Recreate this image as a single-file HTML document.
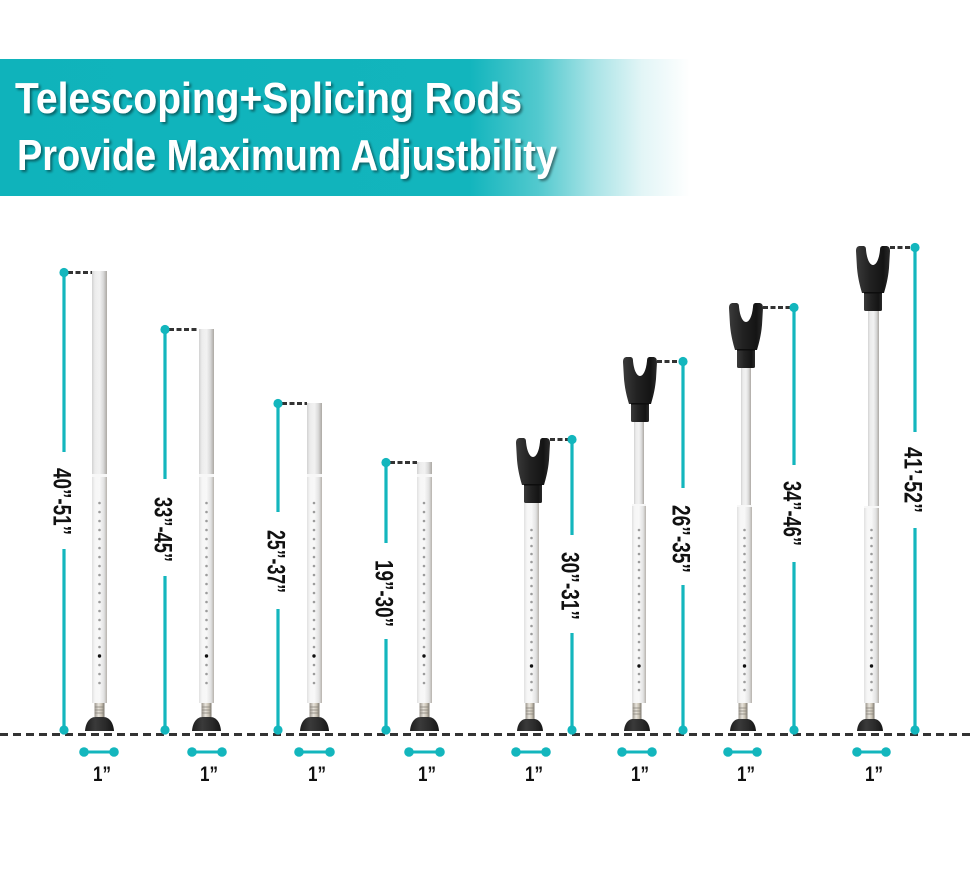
<!DOCTYPE html>
<html>
<head>
<meta charset="utf-8">
<style>
  html, body { margin: 0; padding: 0; background: #fff; }
  svg { display: block; }
</style>
</head>
<body>
<svg width="970" height="878" viewBox="0 0 970 878" xmlns="http://www.w3.org/2000/svg">
  <defs>
    <linearGradient id="band" gradientUnits="userSpaceOnUse" x1="0" y1="0" x2="690" y2="0">
      <stop offset="0" stop-color="#0fb3bb"/>
      <stop offset="0.68" stop-color="#12b5bd"/>
      <stop offset="0.78" stop-color="#52c9ce"/>
      <stop offset="0.86" stop-color="#a8e3e6"/>
      <stop offset="0.93" stop-color="#e2f5f6"/>
      <stop offset="1" stop-color="#ffffff"/>
    </linearGradient>
    <linearGradient id="ru" x1="0" y1="0" x2="1" y2="0">
      <stop offset="0" stop-color="#d2d2d2"/>
      <stop offset="0.2" stop-color="#ececec"/>
      <stop offset="0.5" stop-color="#f2f2f2"/>
      <stop offset="0.75" stop-color="#dadada"/>
      <stop offset="1" stop-color="#aca8a3"/>
    </linearGradient>
    <linearGradient id="rl" x1="0" y1="0" x2="1" y2="0">
      <stop offset="0" stop-color="#e0e0e0"/>
      <stop offset="0.2" stop-color="#f6f6f6"/>
      <stop offset="0.5" stop-color="#f8f8f8"/>
      <stop offset="0.8" stop-color="#e2e2e2"/>
      <stop offset="1" stop-color="#b6b2ac"/>
    </linearGradient>
    <linearGradient id="metal" x1="0" y1="0" x2="1" y2="0">
      <stop offset="0" stop-color="#9a958c"/>
      <stop offset="0.4" stop-color="#e8e4dc"/>
      <stop offset="0.7" stop-color="#c9c2b4"/>
      <stop offset="1" stop-color="#7d786f"/>
    </linearGradient>
    <linearGradient id="footg" x1="0" y1="0" x2="1" y2="0">
      <stop offset="0" stop-color="#1e1e1e"/>
      <stop offset="0.35" stop-color="#3a3a3a"/>
      <stop offset="0.7" stop-color="#2a2a2a"/>
      <stop offset="1" stop-color="#161616"/>
    </linearGradient>
    <linearGradient id="forkg" x1="0" y1="0" x2="1" y2="0">
      <stop offset="0" stop-color="#3a3a3a"/>
      <stop offset="0.4" stop-color="#222"/>
      <stop offset="0.8" stop-color="#141414"/>
      <stop offset="1" stop-color="#2a2a2a"/>
    </linearGradient>
    <filter id="ts" x="-5%" y="-30%" width="110%" height="160%">
      <feDropShadow dx="2" dy="2" stdDeviation="1.2" flood-color="#000" flood-opacity="0.45"/>
    </filter>
    <g id="footA">
      <rect x="-5" y="703" width="10" height="14" fill="url(#metal)"/>
      <line x1="-5" y1="707" x2="5" y2="707" stroke="#8a857c" stroke-width="0.8"/>
      <line x1="-5" y1="710" x2="5" y2="710" stroke="#8a857c" stroke-width="0.8"/>
      <line x1="-5" y1="713" x2="5" y2="713" stroke="#8a857c" stroke-width="0.8"/>
      <path d="M -14.5 731 C -14 723 -10 717 -4 717 L 4 717 C 10 717 14 723 14.5 731 Z" fill="url(#footg)"/>
    </g>
    <g id="footB">
      <rect x="-4.5" y="703" width="9" height="16" fill="url(#metal)"/>
      <line x1="-4.5" y1="708" x2="4.5" y2="708" stroke="#8a857c" stroke-width="0.8"/>
      <line x1="-4.5" y1="711" x2="4.5" y2="711" stroke="#8a857c" stroke-width="0.8"/>
      <line x1="-4.5" y1="714" x2="4.5" y2="714" stroke="#8a857c" stroke-width="0.8"/>
      <path d="M -13 731 C -12.5 724 -9 719 -4 719 L 4 719 C 9 719 12.5 724 13 731 Z" fill="url(#footg)"/>
    </g>
    <g id="fork">
      <path d="M -17 5 C -17 1 -15 0 -13 0 L -10 0 C -8 0 -7 1 -7 4 C -6 14 -3 19 0 19 C 3 19 6 14 7 4 C 7 1 8 0 10 0 L 13 0 C 15 0 17 1 17 5 L 16 22 C 15 33 13 40 11 47 L -11 47 C -13 40 -15 33 -16 22 Z" fill="url(#forkg)"/>
      <rect x="-9" y="46" width="18" height="19" rx="1.5" fill="url(#forkg)"/>
      <rect x="-9" y="46" width="18" height="1.5" fill="#0d0d0d"/>
    </g>
  </defs>

  <rect width="970" height="878" fill="#fff"/>

  <!-- Header band -->
  <rect x="0" y="59" width="690" height="137" fill="url(#band)"/>
  <g font-family="'Liberation Sans', Arial, sans-serif" font-weight="bold" fill="#fff" font-size="44" filter="url(#ts)">
    <text x="15" y="113" textLength="507" lengthAdjust="spacingAndGlyphs">Telescoping+Splicing Rods</text>
    <text x="17" y="170" textLength="540" lengthAdjust="spacingAndGlyphs">Provide Maximum Adjustbility</text>
  </g>

  <!-- Baseline -->
  <line x1="0" y1="734.5" x2="970" y2="734.5" stroke="#333" stroke-width="3" stroke-dasharray="8 5"/>

  <!-- ============ Rods 1-4 (plain) ============ -->
  <!-- Rod 1 -->
  <rect x="92" y="271" width="15" height="205" fill="url(#ru)"/>
  <rect x="92" y="475" width="15" height="228" fill="url(#rl)"/>
  <rect x="92" y="474" width="15" height="3" fill="#f7f7f7"/>
  <line x1="99.5" y1="503" x2="99.5" y2="683.5" stroke="#9c9c9c" stroke-width="2.6" stroke-linecap="round" stroke-dasharray="0 9"/>
  <circle cx="99.5" cy="656" r="1.7" fill="#111"/>
  <use href="#footA" x="99.5"/>

  <!-- Rod 2 -->
  <rect x="199" y="329" width="15" height="147" fill="url(#ru)"/>
  <rect x="199" y="475" width="15" height="228" fill="url(#rl)"/>
  <rect x="199" y="474" width="15" height="3" fill="#f7f7f7"/>
  <line x1="206.5" y1="503" x2="206.5" y2="683.5" stroke="#9c9c9c" stroke-width="2.6" stroke-linecap="round" stroke-dasharray="0 9"/>
  <circle cx="206.5" cy="656" r="1.7" fill="#111"/>
  <use href="#footA" x="206.5"/>

  <!-- Rod 3 -->
  <rect x="307" y="403" width="15" height="73" fill="url(#ru)"/>
  <rect x="307" y="475" width="15" height="228" fill="url(#rl)"/>
  <rect x="307" y="474" width="15" height="3" fill="#f7f7f7"/>
  <line x1="314" y1="503" x2="314" y2="683.5" stroke="#9c9c9c" stroke-width="2.6" stroke-linecap="round" stroke-dasharray="0 9"/>
  <circle cx="314" cy="656" r="1.7" fill="#111"/>
  <use href="#footA" x="314.5"/>

  <!-- Rod 4 -->
  <rect x="417" y="462" width="15" height="14" fill="url(#ru)"/>
  <rect x="417" y="475" width="15" height="228" fill="url(#rl)"/>
  <rect x="417" y="474" width="15" height="3" fill="#f7f7f7"/>
  <line x1="424" y1="503" x2="424" y2="683.5" stroke="#9c9c9c" stroke-width="2.6" stroke-linecap="round" stroke-dasharray="0 9"/>
  <circle cx="424" cy="656" r="1.7" fill="#111"/>
  <use href="#footA" x="424.5"/>

  <!-- ============ Rods 5-8 (forks) ============ -->
  <!-- Rod 5 -->
  <rect x="524" y="503" width="15" height="200" fill="url(#rl)"/>
  <line x1="531.5" y1="530" x2="531.5" y2="690.5" stroke="#9c9c9c" stroke-width="2.6" stroke-linecap="round" stroke-dasharray="0 8"/>
  <circle cx="531.5" cy="666" r="1.7" fill="#111"/>
  <use href="#fork" transform="translate(533,438)"/>
  <use href="#footB" x="530"/>

  <!-- Rod 6 -->
  <rect x="634" y="420" width="10" height="86" fill="url(#ru)"/>
  <rect x="632" y="505" width="14" height="198" fill="url(#rl)"/>
  <rect x="632" y="504" width="14" height="2" fill="#f7f7f7"/>
  <line x1="639" y1="530" x2="639" y2="690.5" stroke="#9c9c9c" stroke-width="2.6" stroke-linecap="round" stroke-dasharray="0 8"/>
  <circle cx="639" cy="666" r="1.7" fill="#111"/>
  <use href="#fork" transform="translate(640,357)"/>
  <use href="#footB" x="637"/>

  <!-- Rod 7 -->
  <rect x="741" y="365" width="10" height="142" fill="url(#ru)"/>
  <rect x="737" y="506" width="15" height="197" fill="url(#rl)"/>
  <rect x="737" y="505" width="15" height="2" fill="#f7f7f7"/>
  <line x1="744.5" y1="530" x2="744.5" y2="690.5" stroke="#9c9c9c" stroke-width="2.6" stroke-linecap="round" stroke-dasharray="0 8"/>
  <circle cx="744.5" cy="666" r="1.7" fill="#111"/>
  <use href="#fork" transform="translate(746,303)"/>
  <use href="#footB" x="743"/>

  <!-- Rod 8 -->
  <rect x="868" y="309" width="11" height="199" fill="url(#ru)"/>
  <rect x="864" y="507" width="15" height="196" fill="url(#rl)"/>
  <rect x="864" y="506" width="15" height="2" fill="#f7f7f7"/>
  <line x1="871.5" y1="530" x2="871.5" y2="690.5" stroke="#9c9c9c" stroke-width="2.6" stroke-linecap="round" stroke-dasharray="0 8"/>
  <circle cx="871.5" cy="666" r="1.7" fill="#111"/>
  <use href="#fork" transform="translate(873,246)"/>
  <use href="#footB" x="870"/>

  <!-- ============ Dashed top connectors ============ -->
  <g stroke="#333" stroke-width="3" stroke-dasharray="5 2.5">
    <line x1="68" y1="272.5" x2="92" y2="272.5"/>
    <line x1="169" y1="329.5" x2="199" y2="329.5"/>
    <line x1="282" y1="403.5" x2="307" y2="403.5"/>
    <line x1="390" y1="462.5" x2="417" y2="462.5"/>
    <line x1="550" y1="439.5" x2="568" y2="439.5"/>
    <line x1="657" y1="361.5" x2="679" y2="361.5"/>
    <line x1="763" y1="307.5" x2="790" y2="307.5"/>
    <line x1="890" y1="247.5" x2="911" y2="247.5"/>
  </g>

  <!-- ============ Teal measurement lines ============ -->
  <g stroke="#13b6bd" stroke-width="3.2">
    <line x1="64" y1="272" x2="64" y2="452"/><line x1="64" y1="549" x2="64" y2="730"/>
    <line x1="165" y1="329" x2="165" y2="479"/><line x1="165" y1="576" x2="165" y2="730"/>
    <line x1="278" y1="403" x2="278" y2="512"/><line x1="278" y1="609" x2="278" y2="730"/>
    <line x1="386" y1="462" x2="386" y2="543"/><line x1="386" y1="639" x2="386" y2="730"/>
    <line x1="572" y1="439" x2="572" y2="535"/><line x1="572" y1="633" x2="572" y2="730"/>
    <line x1="683" y1="361" x2="683" y2="488"/><line x1="683" y1="585" x2="683" y2="730"/>
    <line x1="794" y1="307" x2="794" y2="465"/><line x1="794" y1="562" x2="794" y2="730"/>
    <line x1="915" y1="247" x2="915" y2="432"/><line x1="915" y1="528" x2="915" y2="730"/>
  </g>
  <g fill="#13b6bd">
    <circle cx="64" cy="272.5" r="4.6"/><circle cx="64" cy="730" r="4.6"/>
    <circle cx="165" cy="329.5" r="4.6"/><circle cx="165" cy="730" r="4.6"/>
    <circle cx="278" cy="403.5" r="4.6"/><circle cx="278" cy="730" r="4.6"/>
    <circle cx="386" cy="462.5" r="4.6"/><circle cx="386" cy="730" r="4.6"/>
    <circle cx="572" cy="439.5" r="4.6"/><circle cx="572" cy="730" r="4.6"/>
    <circle cx="683" cy="361.5" r="4.6"/><circle cx="683" cy="730" r="4.6"/>
    <circle cx="794" cy="307.5" r="4.6"/><circle cx="794" cy="730" r="4.6"/>
    <circle cx="915" cy="247.5" r="4.6"/><circle cx="915" cy="730" r="4.6"/>
  </g>

  <!-- Vertical labels -->
  <g font-family="'Liberation Sans', Arial, sans-serif" font-weight="bold" font-size="25" fill="#111">
    <text transform="translate(53.5,468) rotate(90)" textLength="67" lengthAdjust="spacingAndGlyphs">40”-51”</text>
    <text transform="translate(154.5,497) rotate(90)" textLength="65" lengthAdjust="spacingAndGlyphs">33”-45”</text>
    <text transform="translate(267.5,530) rotate(90)" textLength="63" lengthAdjust="spacingAndGlyphs">25”-37”</text>
    <text transform="translate(375.5,560) rotate(90)" textLength="67" lengthAdjust="spacingAndGlyphs">19”-30”</text>
    <text transform="translate(561.5,552) rotate(90)" textLength="68" lengthAdjust="spacingAndGlyphs">30”-31”</text>
    <text transform="translate(672.5,505) rotate(90)" textLength="68" lengthAdjust="spacingAndGlyphs">26”-35”</text>
    <text transform="translate(783.5,481) rotate(90)" textLength="65" lengthAdjust="spacingAndGlyphs">34”-46”</text>
    <text transform="translate(904.5,447) rotate(90)" textLength="66" lengthAdjust="spacingAndGlyphs">41’-52”</text>
  </g>

  <!-- ============ 1" indicators ============ -->
  <g stroke="#13b6bd" stroke-width="3">
    <line x1="84" y1="752" x2="114" y2="752"/>
    <line x1="192" y1="752" x2="222" y2="752"/>
    <line x1="299" y1="752" x2="330" y2="752"/>
    <line x1="409" y1="752" x2="440" y2="752"/>
    <line x1="516" y1="752" x2="546" y2="752"/>
    <line x1="622" y1="752" x2="652" y2="752"/>
    <line x1="728" y1="752" x2="757" y2="752"/>
    <line x1="857" y1="752" x2="886" y2="752"/>
  </g>
  <g fill="#13b6bd">
    <circle cx="84" cy="752" r="4.8"/><circle cx="114" cy="752" r="4.8"/>
    <circle cx="192" cy="752" r="4.8"/><circle cx="222" cy="752" r="4.8"/>
    <circle cx="299" cy="752" r="4.8"/><circle cx="330" cy="752" r="4.8"/>
    <circle cx="409" cy="752" r="4.8"/><circle cx="440" cy="752" r="4.8"/>
    <circle cx="516" cy="752" r="4.8"/><circle cx="546" cy="752" r="4.8"/>
    <circle cx="622" cy="752" r="4.8"/><circle cx="652" cy="752" r="4.8"/>
    <circle cx="728" cy="752" r="4.8"/><circle cx="757" cy="752" r="4.8"/>
    <circle cx="857" cy="752" r="4.8"/><circle cx="886" cy="752" r="4.8"/>
  </g>
  <g font-family="'Liberation Sans', Arial, sans-serif" font-weight="bold" font-size="21" fill="#111">
    <text x="93" y="781" textLength="18" lengthAdjust="spacingAndGlyphs">1”</text>
    <text x="200" y="781" textLength="18" lengthAdjust="spacingAndGlyphs">1”</text>
    <text x="308" y="781" textLength="18" lengthAdjust="spacingAndGlyphs">1”</text>
    <text x="418" y="781" textLength="18" lengthAdjust="spacingAndGlyphs">1”</text>
    <text x="525" y="781" textLength="18" lengthAdjust="spacingAndGlyphs">1”</text>
    <text x="631" y="781" textLength="18" lengthAdjust="spacingAndGlyphs">1”</text>
    <text x="737" y="781" textLength="18" lengthAdjust="spacingAndGlyphs">1”</text>
    <text x="865" y="781" textLength="18" lengthAdjust="spacingAndGlyphs">1”</text>
  </g>
</svg>
</body>
</html>
